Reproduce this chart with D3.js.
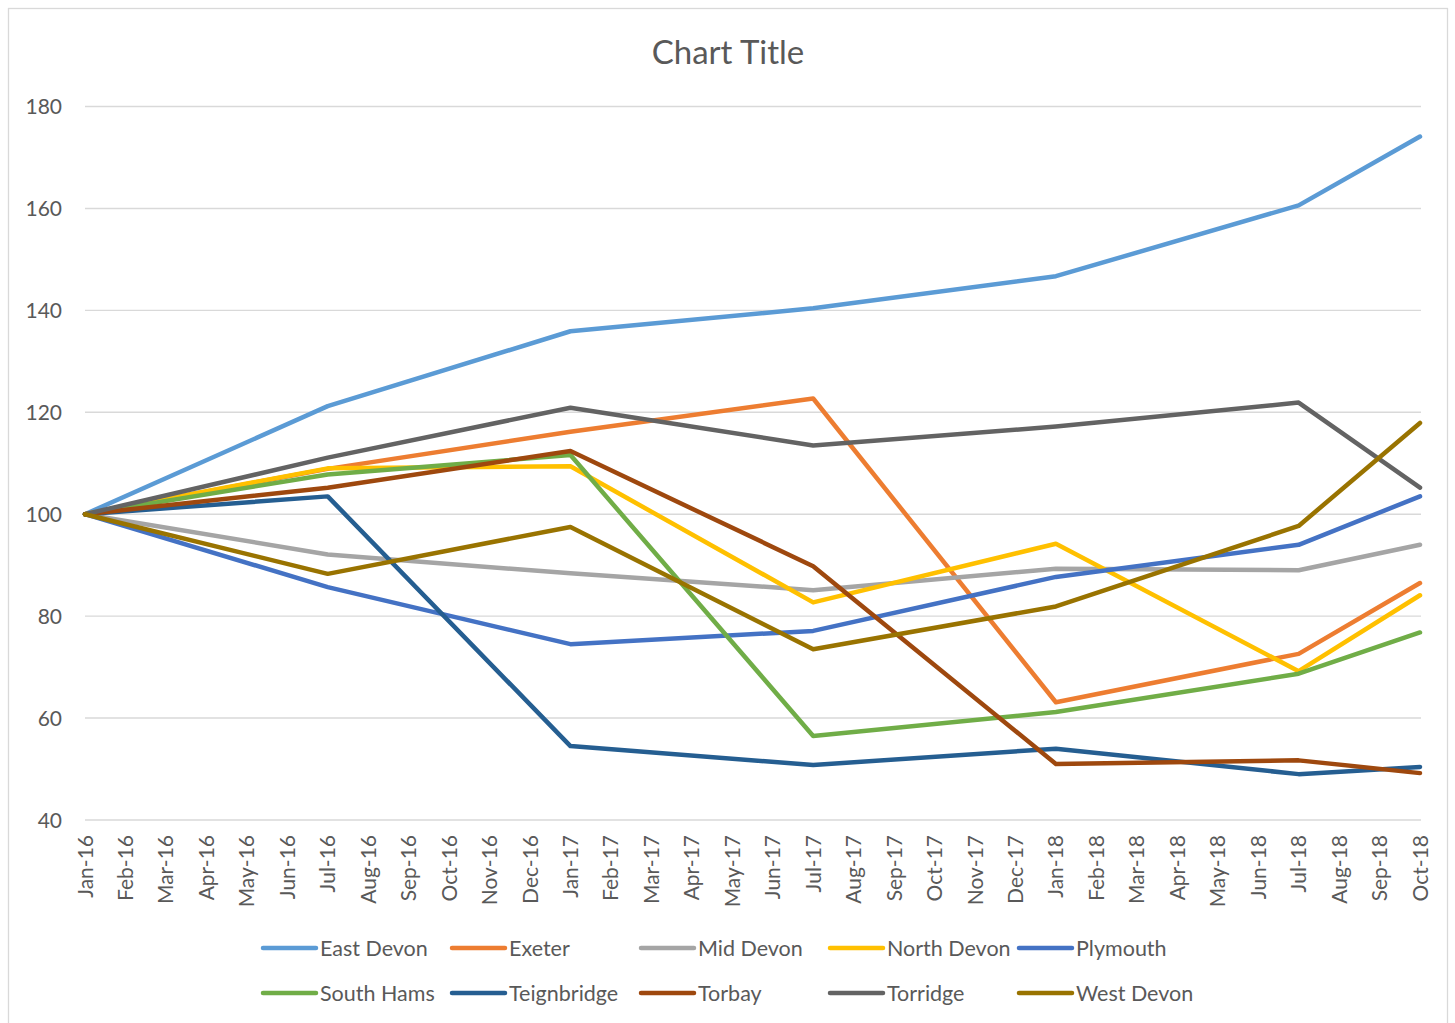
<!DOCTYPE html>
<html>
<head>
<meta charset="utf-8">
<script src="https://cdn.jsdelivr.net/npm/d3@7"></script>
<style>
  body { margin: 0; background: #fff; }
  text { font-family: Lato, "Open Sans", sans-serif; fill: #595959; }
</style>
</head>
<body>
<div id="chart"></div>
<script>
// Month tick labels along the x axis
const monthLabels = [
  'Jan-16','Feb-16','Mar-16','Apr-16','May-16','Jun-16','Jul-16','Aug-16','Sep-16','Oct-16','Nov-16','Dec-16',
  'Jan-17','Feb-17','Mar-17','Apr-17','May-17','Jun-17','Jul-17','Aug-17','Sep-17','Oct-17','Nov-17','Dec-17',
  'Jan-18','Feb-18','Mar-18','Apr-18','May-18','Jun-18','Jul-18','Aug-18','Sep-18','Oct-18'
];

// Months that carry a value
const sampleMonths = ['Jan-16','Jul-16','Jan-17','Jul-17','Jan-18','Jul-18','Oct-18'];

const yTicks = [40, 60, 80, 100, 120, 140, 160, 180];

const seriesNames = ['East Devon','Exeter','Mid Devon','North Devon','Plymouth',
                     'South Hams','Teignbridge','Torbay','Torridge','West Devon'];

const eastDevon   = [100, 121.2, 135.9, 140.4, 146.7, 160.6, 174.1];
const exeter      = [100, 108.9, 116.2, 122.7, 63.1, 72.6, 86.5];
const midDevon    = [100, 92.1, 88.4, 85.1, 89.3, 89.0, 94.0];
const northDevon  = [100, 109.0, 109.4, 82.7, 94.2, 69.2, 84.1];
const plymouth    = [100, 85.7, 74.5, 77.1, 87.7, 94.0, 103.5];
const southHams   = [100, 107.8, 111.6, 56.5, 61.2, 68.7, 76.8];
const teignbridge = [100, 103.5, 54.5, 50.8, 54.0, 49.0, 50.4];
const torbay      = [100, 105.2, 112.4, 89.8, 51.0, 51.7, 49.2];
const torridge    = [100, 111.1, 120.9, 113.5, 117.2, 121.9, 105.2];
const westDevon   = [100, 88.3, 97.5, 73.5, 81.9, 97.7, 117.9];

const seriesValues = [eastDevon, exeter, midDevon, northDevon, plymouth,
                      southHams, teignbridge, torbay, torridge, westDevon];

const colors = ['#5B9BD5','#ED7D31','#A5A5A5','#FFC000','#4472C4',
                '#70AD47','#255E91','#9E480E','#636363','#997300'];

const width = 1455, height = 1023;

const svg = d3.select('#chart')
  .append('svg')
  .attr('width', width)
  .attr('height', height);

// Chart border
svg.append('rect')
  .attr('x', 8.5).attr('y', 8.5)
  .attr('width', 1439).attr('height', 1030)
  .attr('fill', 'none')
  .attr('stroke', '#d9d9d9')
  .attr('stroke-width', 1.3);

// Title
svg.append('text')
  .attr('x', 728)
  .attr('y', 64)
  .attr('text-anchor', 'middle')
  .style('font-size', '33px')
  .text('Chart Title');

const x = d3.scalePoint()
  .domain(monthLabels)
  .range([85, 1420]);

const y = d3.scaleLinear()
  .domain([40, 180])
  .range([820, 106.5]);

// Gridlines
svg.append('g')
  .selectAll('line')
  .data(yTicks)
  .enter().append('line')
  .attr('x1', 85).attr('x2', 1421)
  .attr('y1', d => y(d)).attr('y2', d => y(d))
  .attr('stroke', '#d9d9d9')
  .attr('stroke-width', 1.4);

// Y axis labels
svg.append('g')
  .selectAll('text')
  .data(yTicks)
  .enter().append('text')
  .attr('x', 62)
  .attr('y', d => y(d))
  .attr('dy', '0.38em')
  .attr('text-anchor', 'end')
  .style('font-size', '21px')
  .text(d => d);

// X axis labels, rotated
svg.append('g')
  .selectAll('text')
  .data(monthLabels)
  .enter().append('text')
  .attr('transform', d => `translate(${x(d)},835) rotate(-90)`)
  .attr('dy', '0.36em')
  .attr('text-anchor', 'end')
  .style('font-size', '21px')
  .text(d => d);

// Lines
const line = d3.line()
  .x((d, i) => x(sampleMonths[i]))
  .y(d => y(d));

svg.append('g')
  .selectAll('path')
  .data(seriesValues)
  .enter().append('path')
  .attr('d', d => line(d))
  .attr('fill', 'none')
  .attr('stroke', (d, i) => colors[i])
  .attr('stroke-width', 4.5)
  .attr('stroke-linejoin', 'round')
  .attr('stroke-linecap', 'round');

// Legend
const legend = svg.append('g')
  .selectAll('g')
  .data(seriesNames)
  .enter().append('g')
  .attr('transform', (d, i) => `translate(${263 + (i % 5) * 189},${i < 5 ? 948 : 993})`);

legend.append('line')
  .attr('x1', 0).attr('x2', 53)
  .attr('stroke', (d, i) => colors[i])
  .attr('stroke-width', 4.5)
  .attr('stroke-linecap', 'round');

legend.append('text')
  .attr('x', 57)
  .attr('dy', '0.36em')
  .style('font-size', '21.5px')
  .text(d => d);
</script>
</body>
</html>
